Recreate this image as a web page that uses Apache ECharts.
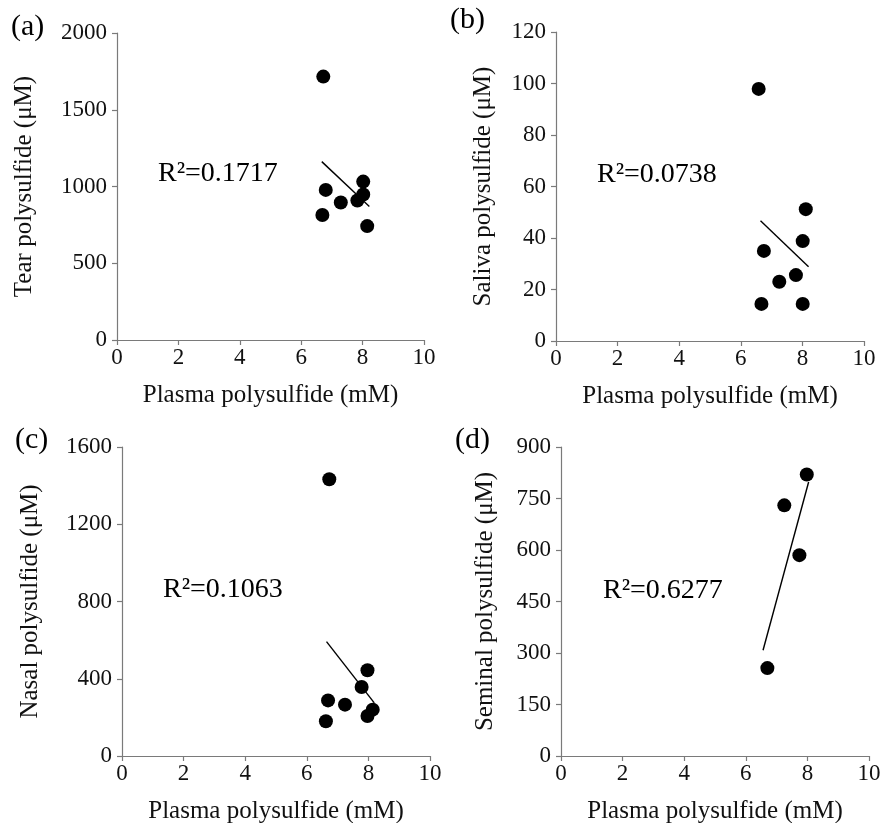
<!DOCTYPE html>
<html>
<head>
<meta charset="utf-8">
<script src="https://cdn.jsdelivr.net/npm/echarts@6/dist/echarts.min.js"></script>
<style>
html,body{margin:0;padding:0;background:#fff;}
#chart{width:880px;height:823px;}
</style>
</head>
<body>
<div id="chart"></div>
<script>
// Panel (a) Tear
var tearX = [6.72, 6.80, 7.29, 6.69, 8.02, 8.02, 7.83, 8.15];
var tearY = [1716, 978, 896, 814, 1032, 948, 909, 742];
var tearFitX = [6.67, 8.22];
var tearFitY = [1162, 870];
// Panel (b) Saliva
var salivaX = [6.58, 8.11, 8.01, 6.75, 7.79, 7.25, 6.67, 8.01];
var salivaY = [97.9, 51.2, 38.8, 35.0, 25.6, 23.0, 14.4, 14.4];
var salivaFitX = [6.64, 8.20];
var salivaFitY = [46.7, 28.8];
// Panel (c) Nasal
var nasalX = [6.73, 7.97, 7.78, 6.69, 7.24, 8.14, 7.97, 6.62];
var nasalY = [1433, 444, 357, 288, 266, 240, 207, 180];
var nasalFitX = [6.64, 8.19];
var nasalFitY = [592, 275];
// Panel (d) Seminal
var seminalX = [7.98, 7.25, 7.74, 6.70];
var seminalY = [820, 730, 585, 256];
var seminalFitX = [6.56, 8.04];
var seminalFitY = [308, 798];

var panelLabels = ['(a)', '(b)', '(c)', '(d)'];
var r2Labels = ['R²=0.1717', 'R²=0.0738', 'R²=0.1063', 'R²=0.6277'];
var yNames = ['Tear polysulfide (μM)', 'Saliva polysulfide (μM)', 'Nasal polysulfide (μM)', 'Seminal polysulfide (μM)'];
var xName = 'Plasma polysulfide (mM)';
var xTicks = {min: 0, max: 10, interval: 2};
var yTicks = [
  {min: 0, max: 2000, interval: 500},
  {min: 0, max: 120, interval: 20},
  {min: 0, max: 1600, interval: 400},
  {min: 0, max: 900, interval: 150}
];

var FAM = 'Liberation Serif';
var grids = [
  {left: 117, top: 33, width: 307, height: 307, outerBoundsMode: 'none', containLabel: false},
  {left: 556, top: 32, width: 308, height: 309, outerBoundsMode: 'none', containLabel: false},
  {left: 122, top: 447, width: 308, height: 309, outerBoundsMode: 'none', containLabel: false},
  {left: 561, top: 447, width: 308, height: 309, outerBoundsMode: 'none', containLabel: false}
];
var panelPos = [[11, 12], [450, 5], [15, 425], [455, 425]];
var r2Pos = [[158, 174], [597, 175], [163, 590], [603, 591]];
var yNameGap = [80, 60, 79, 63];

function zip(xs, ys) { return xs.map(function (x, i) { return [x, ys[i]]; }); }
var pts = [zip(tearX, tearY), zip(salivaX, salivaY), zip(nasalX, nasalY), zip(seminalX, seminalY)];
var fits = [zip(tearFitX, tearFitY), zip(salivaFitX, salivaFitY), zip(nasalFitX, nasalFitY), zip(seminalFitX, seminalFitY)];

var axisLine = {show: true, lineStyle: {color: '#7a7a7a', width: 1.2}};
var axisTick = {show: true, inside: false, length: 5, lineStyle: {color: '#7a7a7a', width: 1.2}};
function plain(v) { return String(v); }

var xAxes = [], yAxes = [], series = [], graphic = [];
for (var i = 0; i < 4; i++) {
  xAxes.push({
    type: 'value', gridIndex: i, min: xTicks.min, max: xTicks.max, interval: xTicks.interval,
    name: xName, nameLocation: 'middle', nameGap: 43,
    nameTextStyle: {fontFamily: FAM, fontSize: 25, color: '#111'},
    axisLine: axisLine, axisTick: axisTick, splitLine: {show: false},
    axisLabel: {fontFamily: FAM, fontSize: 23, color: '#111', margin: 6, formatter: plain}
  });
  yAxes.push({
    type: 'value', gridIndex: i, min: yTicks[i].min, max: yTicks[i].max, interval: yTicks[i].interval,
    name: yNames[i], nameLocation: 'middle', nameGap: yNameGap[i],
    nameTextStyle: {fontFamily: FAM, fontSize: 25, color: '#111'},
    axisLine: axisLine, axisTick: axisTick, splitLine: {show: false},
    axisLabel: {fontFamily: FAM, fontSize: 23, color: '#111', margin: 10, formatter: plain}
  });
  series.push({
    type: 'scatter', xAxisIndex: i, yAxisIndex: i, data: pts[i],
    symbol: 'circle', symbolSize: 14, itemStyle: {color: '#000', opacity: 1}, silent: true
  });
  series.push({
    type: 'line', xAxisIndex: i, yAxisIndex: i, data: fits[i],
    symbol: 'none', lineStyle: {color: '#000', width: 1.4}, silent: true
  });
  graphic.push({
    type: 'text', left: panelPos[i][0], top: panelPos[i][1],
    style: {text: panelLabels[i], fontFamily: FAM, fontSize: 30, fill: '#000'}
  });
  graphic.push({
    type: 'text', x: r2Pos[i][0], y: r2Pos[i][1],
    style: {text: r2Labels[i], fontFamily: FAM, fontSize: 28, fill: '#000', verticalAlign: 'middle', align: 'left'}
  });
}

var chart = echarts.init(document.getElementById('chart'), null, {renderer: 'canvas'});
chart.setOption({
  animation: false,
  backgroundColor: '#fff',
  grid: grids,
  xAxis: xAxes,
  yAxis: yAxes,
  series: series,
  graphic: graphic
});
</script>
</body>
</html>
